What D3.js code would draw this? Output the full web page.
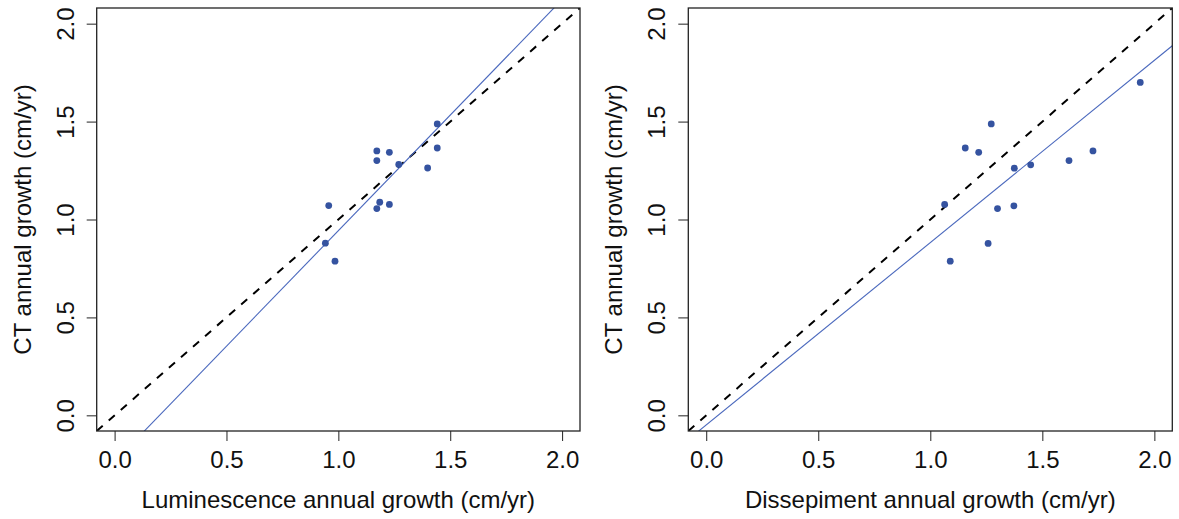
<!DOCTYPE html>
<html>

<head>
    <meta charset="UTF-8">
    <style>
        body { margin: 0; background: white; }
        svg text { font-family: "Liberation Sans", Arial, sans-serif; fill: #111; }
    </style>
    <title>CT vs luminescence and dissepiment growth</title>
</head>

<body>
    <svg></svg>
    <script src="https://d3js.org/d3.v7.min.js"></script>

    <script>
        let width = 1179, height = 519;

        // CT annual growth vs luminescence annual growth
        const lumX = [1.442, 1.172, 1.228, 1.172, 1.270, 1.442, 1.399, 0.957, 1.185, 1.228, 1.172, 0.942, 0.985];
        const lumY = [1.488, 1.350, 1.343, 1.301, 1.281, 1.365, 1.263, 1.071, 1.088, 1.077, 1.056, 0.879, 0.787];

        // CT annual growth vs dissepiment annual growth
        const disX = [1.272, 1.156, 1.216, 1.375, 1.448, 1.619, 1.726, 1.064, 1.300, 1.373, 1.258, 1.089, 1.937];
        const disY = [1.488, 1.365, 1.343, 1.262, 1.279, 1.301, 1.350, 1.077, 1.056, 1.070, 0.878, 0.787, 1.700];

        // fitted lines [intercept, slope]
        const lumFit = [-0.237, 1.180];
        const disFit = [-0.049, 0.931];

        const ticks = [0.0, 0.5, 1.0, 1.5, 2.0];
        const domain = [-0.08, 2.08];

        let svg = d3.select("svg")
            .attr("width", width)
            .attr("height", height);

        function panel(left, right, xs, ys, fit, xTitle) {
            const top = 8, bottom = 431;
            const x = d3.scaleLinear().domain(domain).range([left, right]);
            const y = d3.scaleLinear().domain(domain).range([bottom, top]);

            let g = svg.append("g");

            let clip = "clip" + Math.round(left);
            g.append("clipPath").attr("id", clip)
                .append("rect")
                .attr("x", left).attr("y", top)
                .attr("width", right - left).attr("height", bottom - top);

            let plot = g.append("g").attr("clip-path", "url(#" + clip + ")");

            // 1:1 line
            plot.append("line")
                .attr("x1", x(domain[0])).attr("y1", y(domain[0]))
                .attr("x2", x(domain[1])).attr("y2", y(domain[1]))
                .attr("stroke", "black")
                .attr("stroke-width", 2)
                .attr("stroke-dasharray", "8,8");

            // regression line
            plot.append("line")
                .attr("x1", x(domain[0])).attr("y1", y(fit[0] + fit[1] * domain[0]))
                .attr("x2", x(domain[1])).attr("y2", y(fit[0] + fit[1] * domain[1]))
                .attr("stroke", "#4a68bd")
                .attr("stroke-width", 1.1);

            // points
            g.selectAll("circle")
                .data(xs.map((d, i) => [d, ys[i]]))
                .enter()
                .append("circle")
                .attr("cx", d => x(d[0]))
                .attr("cy", d => y(d[1]))
                .attr("r", 3.4)
                .attr("fill", "#3553a0");

            // x axis
            let xa = g.append("g")
                .attr("transform", "translate(0," + bottom + ")")
                .call(d3.axisBottom(x).tickValues(ticks).tickFormat(d3.format(".1f")).tickSize(10).tickSizeOuter(0));
            xa.select(".domain").remove();
            xa.selectAll("line").attr("stroke", "#222");
            xa.selectAll("text").style("font-size", "24px").attr("y", 37).attr("dy", 0);

            // y axis
            let ya = g.append("g")
                .attr("transform", "translate(" + left + ",0)")
                .call(d3.axisLeft(y).tickValues(ticks).tickFormat(d3.format(".1f")).tickSize(10).tickSizeOuter(0));
            ya.select(".domain").remove();
            ya.selectAll("line").attr("stroke", "#222");
            ya.selectAll("text")
                .style("font-size", "24px")
                .attr("x", 0).attr("y", 0).attr("dy", 0)
                .attr("text-anchor", "middle")
                .attr("transform", "translate(-23,0) rotate(-90)");

            // box
            g.append("rect")
                .attr("x", left).attr("y", top)
                .attr("width", right - left).attr("height", bottom - top)
                .attr("fill", "none")
                .attr("stroke", "#222")
                .attr("stroke-width", 1.3);

            // titles
            g.append("text")
                .attr("x", (left + right) / 2)
                .attr("y", 508)
                .attr("text-anchor", "middle")
                .style("font-size", "24px")
                .text(xTitle);

            g.append("text")
                .attr("transform", "translate(" + (left - 66) + "," + ((top + bottom) / 2) + ") rotate(-90)")
                .attr("text-anchor", "middle")
                .style("font-size", "24px")
                .text("CT annual growth (cm/yr)");
        }

        panel(96.7, 580, lumX, lumY, lumFit, "Luminescence annual growth (cm/yr)");
        panel(688.3, 1172.3, disX, disY, disFit, "Dissepiment annual growth (cm/yr)");
    </script>
</body>

</html>
